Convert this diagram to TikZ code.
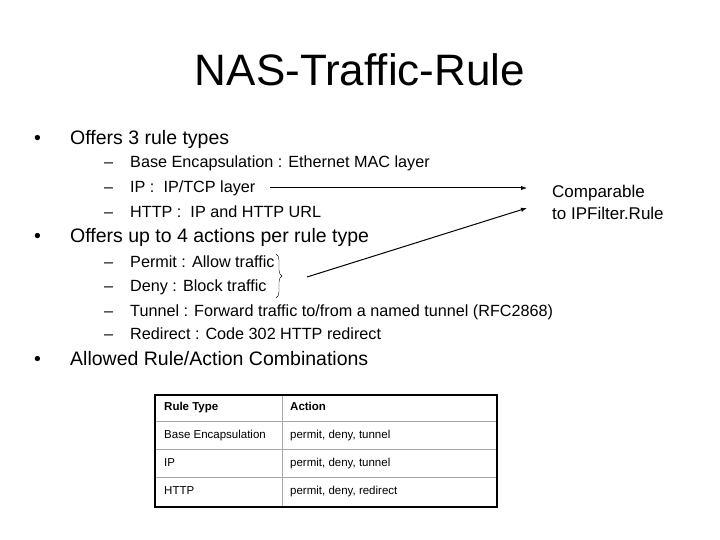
\documentclass[tikz,border=0pt]{standalone}
\usepackage{fontspec}
\setmainfont{Liberation Sans}
\usetikzlibrary{arrows.meta,decorations.pathreplacing}
\begin{document}
\begin{tikzpicture}[x=1pt,y=-1pt,
  lone/.style={anchor=west,inner sep=0pt,text height=14pt,text depth=4pt,font=\fontsize{19.5}{22}\selectfont},
  ltwo/.style={anchor=west,inner sep=0pt,text height=12pt,text depth=3pt,font=\fontsize{16.2}{18}\selectfont},
  cell/.style={anchor=west,inner sep=0pt,text height=8.5pt,text depth=2.5pt,font=\fontsize{11.5}{13}\selectfont},
  arr/.style={line width=1pt,-{Latex[length=6pt,width=4.5pt]}}]
\useasboundingbox (0,0) rectangle (720,540);
\node[inner sep=0pt,font=\fontsize{44}{48}\selectfont] (title) at (360,70) {NAS-Traffic-Rule};
% bullet 1
\node[lone] (b1d) at (34,140) {•};
\node[lone] (b1) at (70,140) {Offers 3 rule types};
\node[ltwo] (d11) at (104,163) {–}; \node[ltwo] (s11) at (130,163) {Base Encapsulation : Ethernet MAC layer};
\node[ltwo] (d12) at (104,188) {–}; \node[ltwo] (s12) at (130,188) {IP :\ \ IP/TCP layer};
\node[ltwo] (d13) at (104,213) {–}; \node[ltwo] (s13) at (130,213) {HTTP :\ \ IP and HTTP URL};
% bullet 2
\node[lone] (b2d) at (34,238) {•};
\node[lone] (b2) at (70,238) {Offers up to 4 actions per rule type};
\node[ltwo] (d21) at (104,263) {–}; \node[ltwo] (s21) at (130,263) {Permit : Allow traffic};
\node[ltwo] (d22) at (104,287) {–}; \node[ltwo] (s22) at (130,287) {Deny : Block traffic};
\node[ltwo] (d23) at (104,312) {–}; \node[ltwo] (s23) at (130,312) {Tunnel : Forward traffic to/from a named tunnel (RFC2868)};
\node[ltwo] (d24) at (104,335) {–}; \node[ltwo] (s24) at (130,335) {Redirect : Code 302 HTTP redirect};
% bullet 3
\node[lone] (b3d) at (34,360) {•};
\node[lone] (b3) at (70,360) {Allowed Rule/Action Combinations};
% comparable
\node[anchor=west,inner sep=0pt,align=left,font=\fontsize{17}{22}\selectfont] (cmp) at (552,202) {Comparable\\to IPFilter.Rule};
\coordinate (brtop) at (276,254);
\coordinate (brbot) at (276,298);
\draw[decorate,decoration={brace,amplitude=6pt}] (brtop) -- (brbot);
\coordinate (a1s) at (270,188); \coordinate (a1e) at (527,188);
\coordinate (a2s) at (307,277); \coordinate (a2e) at (527,208);
\draw[arr] (a1s) -- (a1e);
\draw[arr] (a2s) -- (a2e);
% table
\draw[gray!70,line width=0.6pt] (155,421) -- (497,421) (155,449) -- (497,449) (155,477) -- (497,477) (282,395) -- (282,507);
\draw[line width=1.3pt] (155,395) rectangle (497,507);
\node[cell,font=\fontsize{11.5}{13}\selectfont\bfseries] (r0a) at (164,407) {Rule Type};
\node[cell,font=\fontsize{11.5}{13}\selectfont\bfseries] (r0b) at (290,407) {Action};
\node[cell] (r1a) at (164,435) {Base Encapsulation};
\node[cell] (r1b) at (290,435) {permit, deny, tunnel};
\node[cell] (r2a) at (164,463) {IP};
\node[cell] (r2b) at (290,463) {permit, deny, tunnel};
\node[cell] (r3a) at (164,491) {HTTP};
\node[cell] (r3b) at (290,491) {permit, deny, redirect};
\end{tikzpicture}
\end{document}
